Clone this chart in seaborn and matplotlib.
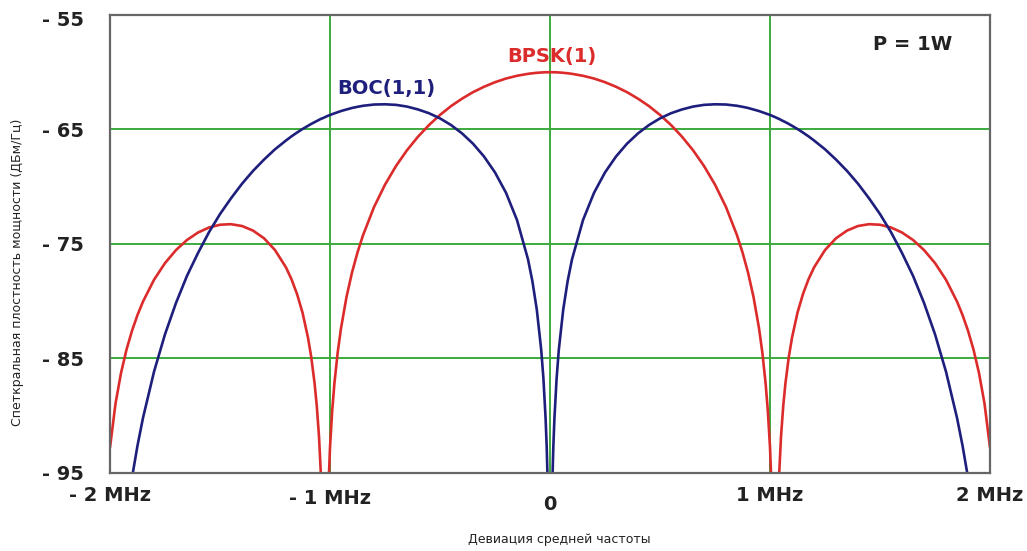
import matplotlib
matplotlib.use("Agg")
import seaborn as sns
from matplotlib import pyplot as plt
from matplotlib.transforms import ScaledTranslation

# frequency offset, MHz
freq_mhz = [-2.0, -1.975, -1.95, -1.925, -1.9, -1.875, -1.85, -1.8, -1.75, -1.7, -1.65, -1.6, -1.55,
            -1.5, -1.45, -1.4, -1.35, -1.3, -1.25, -1.2, -1.175, -1.15, -1.125, -1.1, -1.085, -1.07,
            -1.06, -1.05, -1.04, -1.035, -1.023, -1.01, -1.0, -0.99, -0.98, -0.965, -0.95, -0.925,
            -0.9, -0.875, -0.85, -0.8, -0.75, -0.7, -0.65, -0.6, -0.55, -0.5, -0.45, -0.4, -0.35,
            -0.3, -0.25, -0.2, -0.15, -0.1, -0.08, -0.06, -0.04, -0.03, -0.02, -0.015, -0.01, -0.005,
            0, 0.005, 0.01, 0.015, 0.02, 0.03, 0.04, 0.06, 0.08, 0.1, 0.15, 0.2, 0.25, 0.3, 0.35,
            0.4, 0.45, 0.5, 0.55, 0.6, 0.65, 0.7, 0.75, 0.8, 0.85, 0.875, 0.9, 0.925, 0.95, 0.965,
            0.98, 0.99, 1.0, 1.01, 1.023, 1.035, 1.04, 1.05, 1.06, 1.07, 1.085, 1.1, 1.125, 1.15,
            1.175, 1.2, 1.25, 1.3, 1.35, 1.4, 1.45, 1.5, 1.55, 1.6, 1.65, 1.7, 1.75, 1.8, 1.85,
            1.875, 1.9, 1.925, 1.95, 1.975, 2.0]

# BPSK(1), dBm/Hz
bpsk_db = [-92.79, -88.95, -86.28, -84.23, -82.58, -81.20, -80.03, -78.13, -76.67, -75.53, -74.65,
           -74.00, -73.56, -73.32, -73.27, -73.43, -73.83, -74.50, -75.53, -77.05, -78.08, -79.36,
           -80.99, -83.18, -84.91, -87.18, -89.16, -91.81, -95.73, -98.72, -130, -97.81, -92.77,
           -89.56, -87.18, -84.47, -82.36, -79.63, -77.49, -75.74, -74.24, -71.78, -69.82, -68.19,
           -66.81, -65.63, -64.61, -63.73, -62.96, -62.31, -61.74, -61.27, -60.87, -60.55, -60.31,
           -60.14, -60.09, -60.05, -60.02, -60.01, -60.0, -60.0, -60.0, -60.0,
           -60.0,
           -60.0, -60.0, -60.0, -60.0, -60.01, -60.02, -60.05, -60.09, -60.14, -60.31, -60.55,
           -60.87, -61.27, -61.74, -62.31, -62.96, -63.73, -64.61, -65.63, -66.81, -68.19, -69.82,
           -71.78, -74.24, -75.74, -77.49, -79.63, -82.36, -84.47, -87.18, -89.56, -92.77, -97.81,
           -130, -98.72, -95.73, -91.81, -89.16, -87.18, -84.91, -83.18, -80.99, -79.36, -78.08,
           -77.05, -75.53, -74.50, -73.83, -73.43, -73.27, -73.32, -73.56, -74.00, -74.65, -75.53,
           -76.67, -78.13, -80.03, -81.20, -82.58, -84.23, -86.28, -88.95, -92.79]

# BOC(1,1), dBm/Hz
boc_db = [-115.8, -108.17, -102.85, -98.75, -95.42, -92.61, -90.19, -86.16, -82.89, -80.15, -77.78,
          -75.79, -73.97, -72.39, -71.01, -69.74, -68.62, -67.63, -66.73, -65.96, -65.60, -65.27,
          -64.96, -64.68, -64.51, -64.36, -64.26, -64.17, -64.06, -64.03, -63.92, -63.81, -63.73,
          -63.66, -63.59, -63.49, -63.39, -63.25, -63.12, -63.02, -62.93, -62.82, -62.80, -62.85,
          -63.00, -63.25, -63.58, -64.03, -64.61, -65.34, -66.24, -67.36, -68.75, -70.53, -72.91,
          -76.34, -78.26, -80.74, -84.24, -86.74, -90.26, -92.75, -96.27, -102.3,
          -130,
          -102.3, -96.27, -92.75, -90.26, -86.74, -84.24, -80.74, -78.26, -76.34, -72.91, -70.53,
          -68.75, -67.36, -66.24, -65.34, -64.61, -64.03, -63.58, -63.25, -63.00, -62.85, -62.80,
          -62.82, -62.93, -63.02, -63.12, -63.25, -63.39, -63.49, -63.59, -63.66, -63.73, -63.81,
          -63.92, -64.03, -64.06, -64.17, -64.26, -64.36, -64.51, -64.68, -64.96, -65.27, -65.60,
          -65.96, -66.73, -67.63, -68.62, -69.74, -71.01, -72.39, -73.97, -75.79, -77.78, -80.15,
          -82.89, -86.16, -90.19, -92.61, -95.42, -98.75, -102.85, -108.17, -115.8]

x_ticks = [-2, -1, 0, 1, 2]
x_labels = ["- 2 MHz", "- 1 MHz", "0", "1 MHz", "2 MHz"]
y_ticks = [-95, -85, -75, -65, -55]
y_labels = ["- 95", "- 85", "- 75", "- 65", "- 55"]

sns.set_style("white")
plt.rcParams["font.family"] = ["DejaVu Sans"]

red = "#dc2b2b"
navy = "#1e1e7c"
green = "#3caa3c"

fig = plt.figure(figsize=(10.27, 5.51), dpi=100)
ax = fig.add_axes([0.1071, 0.1416, 0.8569, 0.8312])

sns.lineplot(x=freq_mhz, y=bpsk_db, color=red, linewidth=1.9, ax=ax)
sns.lineplot(x=freq_mhz, y=boc_db, color=navy, linewidth=1.9, ax=ax)

ax.set_xlim(-2, 2)
ax.set_ylim(-95, -55)
ax.set_xticks(x_ticks)
ax.set_xticklabels(x_labels, fontsize=14, fontweight="bold", color="#222222")
ax.set_yticks(y_ticks)
ax.set_yticklabels(y_labels, fontsize=14, fontweight="bold", color="#222222")
ax.tick_params(axis="x", length=0, pad=9)
ax.tick_params(axis="y", length=0, pad=19)

# the labels in the picture sit at slightly different heights
for lbl, dy in zip(ax.get_xticklabels(), [1, 4, 10, 1, 1]):
    lbl.set_transform(lbl.get_transform() + ScaledTranslation(0, -dy / 100, fig.dpi_scale_trans))
for lbl, dy in zip(ax.get_yticklabels(), [0, 0, 0, 0, 4]):
    lbl.set_transform(lbl.get_transform() + ScaledTranslation(0, -dy / 100, fig.dpi_scale_trans))

ax.grid(True, color=green, linewidth=1.4)
ax.set_axisbelow(True)
for s in ax.spines.values():
    s.set_color("#666666")
    s.set_linewidth(1.6)

ax.set_xlabel("")
ax.set_ylabel("")
fig.text(0.545, 0.009, "Девиация средней частоты", fontsize=9, ha="center", va="bottom", color="#222222")
fig.text(0.017, 0.505, "Спеткральная плостность мощности (ДБм/Гц)", fontsize=9,
         rotation=90, ha="center", va="center", color="#222222")

ax.text(-0.745, -61.4, "BOC(1,1)", color=navy, fontsize=14, fontweight="bold", ha="center", va="center")
ax.text(0.01, -58.6, "BPSK(1)", color=red, fontsize=14, fontweight="bold", ha="center", va="center")
ax.text(1.65, -57.6, "P = 1W", color="#222222", fontsize=14, fontweight="bold", ha="center", va="center")

fig.savefig("out.png", dpi=100)
